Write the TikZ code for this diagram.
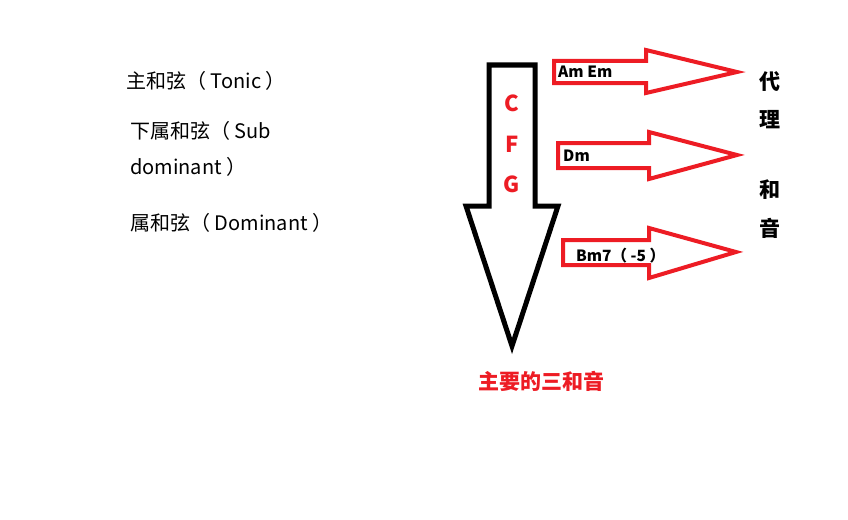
\documentclass[tikz,border=0pt]{standalone}
\usepackage{fontspec}
\setmainfont{Noto Sans CJK SC}
\definecolor{arrowred}{RGB}{237,28,36}
\tikzset{
  blackarrow/.style={draw=black, line width=5pt, line join=miter},
  redarrow/.style={draw=arrowred, line width=4pt, line join=miter},
  lefttext/.style={anchor=west, inner sep=0pt, font=\fontsize{20}{22}\selectfont},
  chordtext/.style={anchor=west, inner sep=0pt, font=\fontsize{15.5}{17}\selectfont\bfseries},
  cfgtext/.style={inner sep=0pt, text=arrowred, font=\fontsize{22}{24}\selectfont\bfseries},
  sidetext/.style={inner sep=0pt, font=\fontsize{21}{23}\selectfont\bfseries}
}
\begin{document}
\begin{tikzpicture}[x=1pt,y=-1pt]
\useasboundingbox (0,0) rectangle (848,519);
% main black arrow
\draw[blackarrow] (489,65) -- (535,65) -- (535,206) -- (558,206) -- (512,346) -- (466,206) -- (489,206) -- cycle;
% red arrows
\draw[redarrow] (554,61) -- (646,61) -- (646,50) -- (737,72) -- (646,93) -- (646,83) -- (554,83) -- cycle;
\draw[redarrow] (558,143) -- (649,143) -- (649,132) -- (737,155) -- (649,179) -- (649,168) -- (558,168) -- cycle;
\draw[redarrow] (563,240) -- (649,240) -- (649,228) -- (736,252) -- (649,278) -- (649,265) -- (563,265) -- cycle;
% labels
\node[lefttext] (tonic) at (126,81) {主和弦（ Tonic ）};
\node[lefttext] (sub1) at (130,131) {下属和弦（ Sub};
\node[lefttext] (sub2) at (130,167) {dominant ）};
\node[lefttext] (dom) at (130,223) {属和弦（ Dominant ）};
\node[chordtext] (amem) at (558,72) {Am Em};
\node[chordtext] (dm) at (563,156) {Dm};
\node[chordtext] (bm) at (576,256) {Bm7（ -5 ）};
\node[cfgtext] (c) at (512,103) {C};
\node[cfgtext] (f) at (512,144) {F};
\node[cfgtext] (g) at (512,184) {G};
\node[inner sep=0pt, text=arrowred, font=\fontsize{21}{23}\selectfont\bfseries] (main) at (541,381) {主要的三和音};
\node[sidetext] (d1) at (770,82) {代};
\node[sidetext] (d2) at (770,120) {理};
\node[sidetext] (d3) at (770,190) {和};
\node[sidetext] (d4) at (770,228) {音};
\end{tikzpicture}
\end{document}
